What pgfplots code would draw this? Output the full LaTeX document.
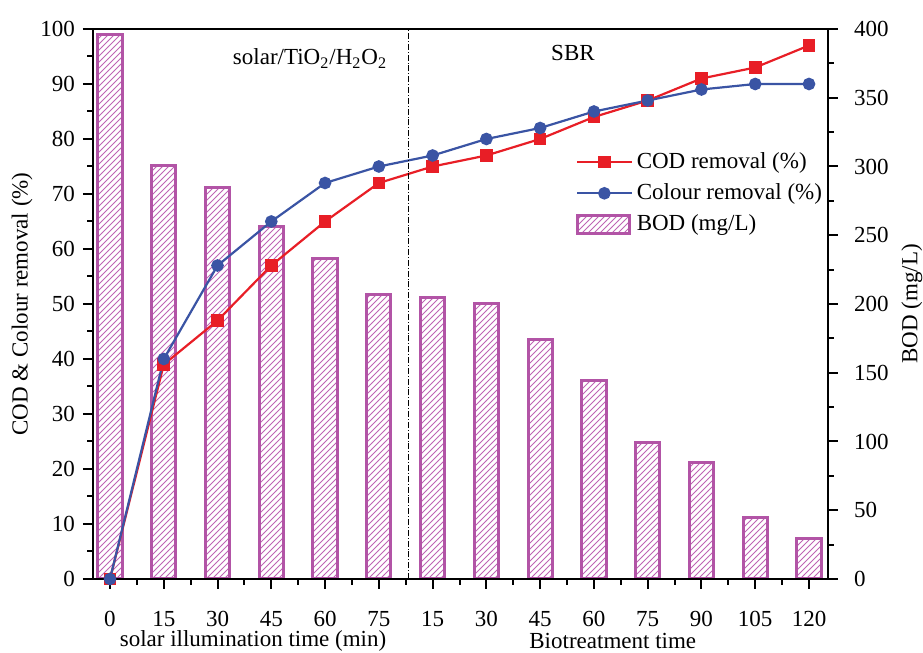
\documentclass[border=0pt]{standalone}
\usepackage{fontspec}
\setmainfont{Liberation Serif}
\usepackage{pgfplots}
\pgfplotsset{compat=1.18}
\usetikzlibrary{patterns}
\definecolor{codred}{RGB}{232,30,38}
\definecolor{colblue}{RGB}{58,84,164}
\definecolor{bodpurple}{RGB}{178,84,166}
\definecolor{bodhatch}{RGB}{190,100,180}
\pgfplotsset{/pgfplots/bod legend/.style={/pgfplots/legend image code/.code={\draw[##1] (0cm,-0.16cm) rectangle (0.92cm,0.16cm);}}}
\begin{document}
\fontsize{11.5}{13.8}\selectfont
\begin{tikzpicture}
\useasboundingbox (-46.5pt,-37pt) rectangle (415pt,289.5pt);
\pgfplotsset{
 common/.style={
  scale only axis, width=367.5pt, height=275pt, at={(0,0)}, anchor=south west,
  xmin=-0.316, xmax=13.353, clip=false,
  axis line style={line width=1.2pt},
  tick style={line width=1pt, black},
  major tick length=5pt, minor tick length=2.8pt,
  tick align=outside,
  /pgf/number format/assume math mode=true,
  font=\fontsize{11.5}{13.8}\selectfont,
 }
}
\begin{axis}[common,
  ymin=0, ymax=400, ytick={0,50,...,400}, minor y tick num=1,
  ytick pos=right, yticklabel pos=right,
  xtick=\empty,
  yticklabel style={xshift=4pt, anchor=west},
  ylabel={BOD (mg/L)},
  ylabel style={at={(axis description cs:1.114,0.5)}, anchor=center},
]
\addplot[ybar, bar width=0.45, draw=bodpurple, line width=1.5pt, pattern=north east lines, pattern color=bodhatch]
coordinates {(0,396) (1,300.5) (2,285) (3,256) (4,233) (5,207) (6,205) (7,200) (8,174.5) (9,144.7) (10,99.4) (11,84.6) (12,44.4) (13,29.6)};
\end{axis}
\begin{axis}[common,
  ymin=0, ymax=100, ytick={0,10,...,100}, minor y tick num=1,
  ytick pos=left,
  xtick={0,...,13}, xticklabels={0,15,30,45,60,75,15,30,45,60,75,90,105,120},
  minor x tick num=1, xtick pos=bottom,
  xticklabel style={yshift=-7pt},
  ylabel={COD \& Colour removal (\%)},
  ylabel style={at={(axis description cs:-0.0966,0.5)}, anchor=center},
  legend image code/.code={\draw[mark repeat=2,mark phase=2,#1] plot coordinates {(0cm,0cm) (0.48cm,0cm) (0.96cm,0cm)};},
  legend style={at={(axis description cs:0.656,0.784)}, anchor=north west, draw=none, fill=none, row sep=2pt, inner sep=0pt, font=\fontsize{11.5}{13.8}\selectfont},
  legend cell align=left,
]
\addplot[color=codred, line width=1.1pt, mark=square*, mark size=2.6pt]
coordinates {(0,0) (1,39) (2,47) (3,57) (4,65) (5,72) (6,75) (7,77) (8,80) (9,84) (10,87) (11,91) (12,93) (13,97)};
\addplot[color=colblue, line width=1.1pt, mark=*, mark size=2.6pt]
coordinates {(0,0) (1,40) (2,57) (3,65) (4,72) (5,75) (6,77) (7,80) (8,82) (9,85) (10,87) (11,89) (12,90) (13,90)};
\addlegendimage{bod legend, draw=bodpurple, line width=1.5pt, pattern=north east lines, pattern color=bodhatch}
\legend{COD removal (\%), Colour removal (\%), BOD (mg/L)}
\draw[densely dashdotted, line width=0.5pt] (axis cs:5.56,0) -- (axis cs:5.56,100);
\draw[line width=1.2pt] ([xshift=-5pt]rel axis cs:0,0) -- ([xshift=5pt]rel axis cs:1,0);
\draw[line width=1.2pt] ([xshift=-5pt]rel axis cs:0,1) -- ([xshift=5pt]rel axis cs:1,1);
\node at (axis cs:3.72,94.6) {solar/TiO\textsubscript{2}/H\textsubscript{2}O\textsubscript{2}};
\node at (axis cs:8.61,95.6) {SBR};
\node at (axis cs:2.66,0) [yshift=-31pt] {solar illumination time (min)};
\node at (axis cs:9.35,0) [yshift=-31pt] {Biotreatment time};
\end{axis}
\end{tikzpicture}
\end{document}
